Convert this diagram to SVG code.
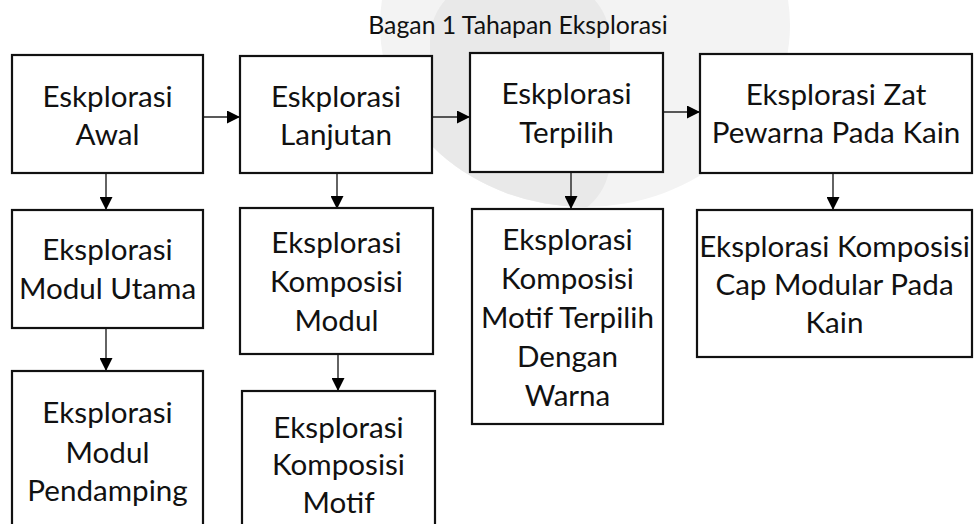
<svg xmlns="http://www.w3.org/2000/svg" width="974" height="524" viewBox="0 0 974 524">
<style>
.box{fill:#fff;stroke:#111;stroke-width:2.2}
.t{font-family:Lato,"Open Sans","Liberation Sans",sans-serif;font-size:29.6px;fill:#111;text-anchor:middle}
.title{font-family:Lato,"Open Sans","Liberation Sans",sans-serif;font-size:24.8px;fill:#111;text-anchor:middle}
.c{stroke:#222;stroke-width:1.4;fill:none}
</style>
<defs>
<marker id="ah" viewBox="0 0 10 10" refX="10" refY="5" markerWidth="15" markerHeight="13" markerUnits="userSpaceOnUse" orient="auto">
<path d="M0,0 L10,5 L0,10 z" fill="#000"/>
</marker>
<clipPath id="wm"><ellipse cx="585" cy="25" rx="205" ry="182"/></clipPath>
</defs>
<rect width="974" height="524" fill="#fff"/>
<g id="watermark">
<ellipse cx="585" cy="25" rx="205" ry="182" fill="#f3f3f3"/>
<rect x="430" y="-20" width="180" height="240" rx="60" fill="#e9e9e9" clip-path="url(#wm)"/>
</g>
<text class="title" x="518" y="34">Bagan 1 Tahapan Eksplorasi</text>
<g id="connectors">
<line class="c" x1="203" y1="117" x2="240" y2="117" marker-end="url(#ah)"/>
<line class="c" x1="432" y1="117" x2="470" y2="117" marker-end="url(#ah)"/>
<line class="c" x1="663" y1="112" x2="700" y2="112" marker-end="url(#ah)"/>
<line class="c" x1="106" y1="173" x2="106" y2="210" marker-end="url(#ah)"/>
<line class="c" x1="337" y1="173" x2="337" y2="209" marker-end="url(#ah)"/>
<line class="c" x1="571" y1="172" x2="571" y2="209" marker-end="url(#ah)"/>
<line class="c" x1="833" y1="173" x2="833" y2="210" marker-end="url(#ah)"/>
<line class="c" x1="106" y1="328" x2="106" y2="371" marker-end="url(#ah)"/>
<line class="c" x1="338" y1="354" x2="338" y2="391" marker-end="url(#ah)"/>
</g>
<g id="n1"><rect class="box" x="12" y="55" width="191" height="118"/>
<text class="t" x="107.5" y="107">Eskplorasi</text><text class="t" x="107.5" y="145">Awal</text></g>
<g id="n2"><rect class="box" x="240" y="56" width="192" height="117"/>
<text class="t" x="336" y="107">Eskplorasi</text><text class="t" x="336" y="145">Lanjutan</text></g>
<g id="n3"><rect class="box" x="470" y="53" width="193" height="119"/>
<text class="t" x="566.5" y="104">Eskplorasi</text><text class="t" x="566.5" y="143">Terpilih</text></g>
<g id="n4"><rect class="box" x="700" y="54" width="272" height="119"/>
<text class="t" x="836" y="105">Eksplorasi Zat</text><text class="t" x="836" y="143">Pewarna Pada Kain</text></g>
<g id="n5"><rect class="box" x="12" y="210" width="191" height="118"/>
<text class="t" x="107.5" y="260">Eksplorasi</text><text class="t" x="107.5" y="299">Modul Utama</text></g>
<g id="n6"><rect class="box" x="240" y="208" width="193" height="146"/>
<text class="t" x="336.5" y="253">Eksplorasi</text><text class="t" x="336.5" y="292">Komposisi</text><text class="t" x="336.5" y="331">Modul</text></g>
<g id="n7"><rect class="box" x="472" y="209" width="191" height="215"/>
<text class="t" x="567.5" y="250">Eksplorasi</text><text class="t" x="567.5" y="289">Komposisi</text><text class="t" x="567.5" y="328">Motif Terpilih</text><text class="t" x="567.5" y="367">Dengan</text><text class="t" x="567.5" y="406">Warna</text></g>
<g id="n8"><rect class="box" x="697" y="210" width="275" height="147"/>
<text class="t" x="834.5" y="257">Eksplorasi Komposisi</text><text class="t" x="834.5" y="295">Cap Modular Pada</text><text class="t" x="834.5" y="333">Kain</text></g>
<g id="n9"><rect class="box" x="12" y="371" width="191" height="170"/>
<text class="t" x="107.5" y="423">Eksplorasi</text><text class="t" x="107.5" y="463">Modul</text><text class="t" x="107.5" y="501">Pendamping</text></g>
<g id="n10"><rect class="box" x="242" y="391" width="193" height="150"/>
<text class="t" x="338.5" y="438">Eksplorasi</text><text class="t" x="338.5" y="475">Komposisi</text><text class="t" x="338.5" y="513">Motif</text></g>
</svg>
